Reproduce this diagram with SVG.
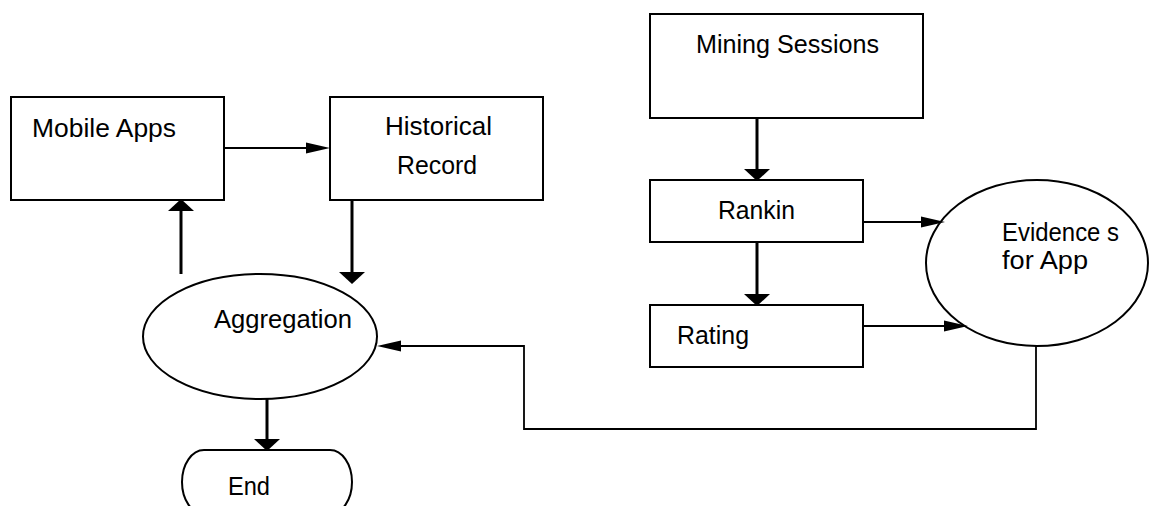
<svg xmlns="http://www.w3.org/2000/svg" width="1151" height="506" viewBox="0 0 1151 506">
<style>
.box{fill:#fff;stroke:#000;stroke-width:2}
.t{font-family:"Liberation Sans",Arial,sans-serif;font-size:26.5px;fill:#000}
.thick{fill:none;stroke:#000;stroke-width:3}
.thin{fill:none;stroke:#000;stroke-width:1.8}
</style>
<defs>
<marker id="hb" markerUnits="userSpaceOnUse" markerWidth="12" markerHeight="26" refX="0" refY="13" orient="auto" overflow="visible">
<path d="M0,0 L12,13 L0,26 z" fill="#000"/>
</marker>
<marker id="hs" markerUnits="userSpaceOnUse" markerWidth="24" markerHeight="12" refX="0" refY="6" orient="auto" overflow="visible">
<path d="M0,0.5 L24,6 L0,11.5 z" fill="#000"/>
</marker>
</defs>
<rect width="1151" height="506" fill="#fff"/>
<g id="mobile-apps"><rect class="box" x="11" y="97" width="213" height="103"/><text class="t" x="32" y="137" textLength="144" lengthAdjust="spacingAndGlyphs">Mobile Apps</text></g>
<g id="historical-record"><rect class="box" x="330" y="97" width="213" height="103"/><text class="t" x="385" y="135" textLength="107" lengthAdjust="spacingAndGlyphs">Historical</text><text class="t" x="397" y="174" textLength="80" lengthAdjust="spacingAndGlyphs">Record</text></g>
<g id="aggregation"><ellipse class="box" cx="260" cy="336.5" rx="117" ry="62.5"/><text class="t" x="214" y="328" textLength="138" lengthAdjust="spacingAndGlyphs">Aggregation</text></g>
<g id="end"><rect class="box" x="182" y="450" width="170" height="64" rx="22" ry="32"/><text class="t" x="228" y="495" textLength="42" lengthAdjust="spacingAndGlyphs">End</text></g>
<g id="mining-sessions"><rect class="box" x="650" y="14" width="273" height="104"/><text class="t" x="696" y="53" textLength="183" lengthAdjust="spacingAndGlyphs">Mining Sessions</text></g>
<g id="rankin"><rect class="box" x="650" y="180" width="213" height="62"/><text class="t" x="718" y="219" textLength="77" lengthAdjust="spacingAndGlyphs">Rankin</text></g>
<g id="rating"><rect class="box" x="650" y="305" width="213" height="62"/><text class="t" x="677" y="344" textLength="72" lengthAdjust="spacingAndGlyphs">Rating</text></g>
<g id="evidences"><ellipse class="box" cx="1037" cy="263" rx="111" ry="83"/><text class="t" x="1002" y="241" textLength="117" lengthAdjust="spacingAndGlyphs">Evidence s</text><text class="t" x="1002" y="269" textLength="86" lengthAdjust="spacingAndGlyphs">for App</text></g>
<g id="connectors">
<line class="thin" x1="224" y1="148" x2="306" y2="148" marker-end="url(#hs)"/>
<line class="thick" x1="181" y1="274" x2="181" y2="211" marker-end="url(#hb)"/>
<line class="thick" x1="352" y1="200" x2="352" y2="272" marker-end="url(#hb)"/>
<line class="thick" x1="267" y1="399" x2="267" y2="439" marker-end="url(#hb)"/>
<line class="thick" x1="757" y1="118" x2="757" y2="169" marker-end="url(#hb)"/>
<line class="thick" x1="757" y1="242" x2="757" y2="294" marker-end="url(#hb)"/>
<line class="thin" x1="863" y1="222" x2="921" y2="222" marker-end="url(#hs)"/>
<line class="thin" x1="863" y1="326" x2="944" y2="326" marker-end="url(#hs)"/>
<polyline class="thin" points="1036,346 1036,429 524,429 524,346 401,346" marker-end="url(#hs)"/>
</g>
</svg>
